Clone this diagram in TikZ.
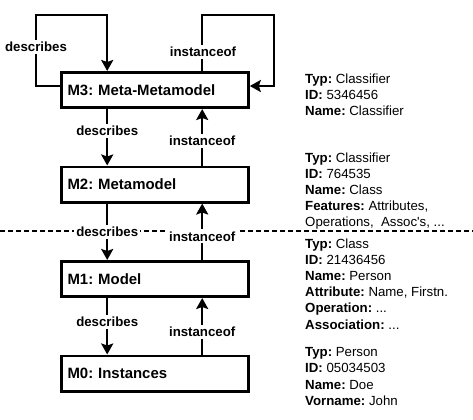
\documentclass[tikz,border=0pt]{standalone}
\usepackage{fontspec}
\setmainfont{Liberation Sans}
\usetikzlibrary{arrows.meta,positioning}
\frenchspacing

\begin{document}
\begin{tikzpicture}[
    x=1bp, y=1bp,
    modelbox/.style={draw, line width=2.6bp, text width=175bp, inner xsep=6bp, minimum height=35.4bp, align=left, font=\bfseries\fontsize{15}{18}\selectfont},
    arrow/.style={line width=2.2bp, -{Stealth[length=11bp, width=12bp, inset=2bp]}},
    lbl/.style={fill=white, inner sep=2bp, font=\bfseries\fontsize{13.3}{15}\selectfont},
    info/.style={align=left, anchor=north west, inner sep=0pt, font=\fontsize{13.3}{16.2}\selectfont},
    node distance=56.5bp
  ]
  \useasboundingbox (0,0) rectangle (473,-419);

  % the four levels
  \node[modelbox] (m3) at (155,-90) {M3: Meta-Metamodel};
  \node[modelbox, below=of m3] (m2) {M2: Metamodel};
  \node[modelbox, below=of m2] (m1) {M1: Model};
  \node[modelbox, below=of m1] (m0) {M0: Instances};

  % border between meta levels and model levels
  \coordinate (dl) at (0,-231);
  \coordinate (dr) at (473,-231);
  \draw[line width=1.9bp, dash pattern=on 5bp off 3bp] (dl) -- (dr);

  % self loops of M3
  \coordinate (lt) at (36,-15);
  \coordinate (rt) at (274,-15);
  \draw[arrow] ([yshift=4bp]m3.west) -| (lt) -| ([xshift=47bp]m3.north west);
  \draw[arrow] ([xshift=142bp]m3.north west) |- (rt) |- ([yshift=4bp]m3.east);
  \node[lbl] (d33) at (36,-47) {describes};
  \node[lbl] (i33) at (203,-52) {instanceof};

  % describes / instanceof between levels
  \draw[arrow] ([xshift=47bp]m3.south west) -- ([xshift=47bp]m2.north west) node[lbl, pos=.39] (d32) {describes};
  \draw[arrow] ([xshift=142bp]m2.north west) -- ([xshift=142bp]m3.south west) node[lbl, pos=.43] (i23) {instanceof};
  \draw[arrow] ([xshift=47bp]m2.south west) -- ([xshift=47bp]m1.north west) node[lbl, pos=.5] (d21) {describes};
  \draw[arrow] ([xshift=142bp]m1.north west) -- ([xshift=142bp]m2.south west) node[lbl, pos=.42] (i12) {instanceof};
  \draw[arrow] ([xshift=47bp]m1.south west) -- ([xshift=47bp]m0.north west) node[lbl, pos=.42] (d10) {describes};
  \draw[arrow] ([xshift=142bp]m0.north west) -- ([xshift=142bp]m1.south west) node[lbl, pos=.4] (i01) {instanceof};

  % example elements
  \node[info] (e3) at (305,-73.5) {\textbf{Typ:} Classifier\\\textbf{ID:} 5346456\\\textbf{Name:} Classifier};
  \node[info] (e2) at (305,-152.5) {\textbf{Typ:} Classifier\\\textbf{ID:} 764535\\\textbf{Name:} Class\\\textbf{Features:} Attributes,\\Operations,\ \ Assoc\textquotesingle s, ...};
  \node[info] (e1) at (305,-238.5) {\textbf{Typ:} Class\\\textbf{ID:} 21436456\\\textbf{Name:} Person\\\textbf{Attribute:} Name, Firstn.\\\textbf{Operation:} ...\\\textbf{Association:} ...};
  \node[info] (e0) at (305,-347.5) {\textbf{Typ:} Person\\\textbf{ID:} 05034503\\\textbf{Name:} Doe\\\textbf{Vorname:} John};
\end{tikzpicture}
\end{document}
